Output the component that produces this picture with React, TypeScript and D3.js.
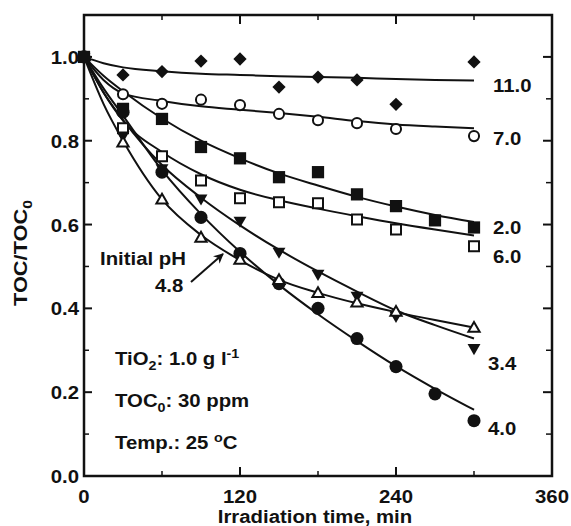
import React from "react";
import * as d3 from "d3";

// measured points, TOC/TOC0 vs irradiation time (min); null = no point
const times = [0, 30, 60, 90, 120, 150, 180, 210, 240, 270, 300];
const ph110 = [1.0, 0.957, 0.965, 0.99, 0.995, 0.928, 0.952, 0.945, 0.887, null, 0.988];
const ph70 = [1.0, 0.911, 0.888, 0.898, 0.885, 0.864, 0.849, 0.842, 0.828, null, 0.811];
const ph20 = [1.0, 0.876, 0.852, 0.785, 0.758, 0.713, 0.725, 0.672, 0.644, 0.61, 0.593];
const ph60 = [1.0, 0.83, 0.763, 0.705, 0.663, 0.653, 0.651, 0.612, 0.588, null, 0.548];
const ph34 = [1.0, 0.813, 0.735, 0.663, 0.61, 0.536, 0.483, 0.431, 0.383, null, 0.306];
const ph40 = [1.0, 0.868, 0.725, 0.617, 0.531, 0.459, 0.4, 0.328, 0.261, 0.196, 0.132];
const ph48 = [1.0, 0.794, 0.658, 0.567, 0.514, 0.466, 0.435, 0.412, 0.39, null, 0.352];

// fitted curves
const fitTimes = [0, 15, 30, 60, 90, 120, 150, 180, 210, 240, 270, 300];
const fit110 = [1.0, 0.985, 0.975, 0.966, 0.96, 0.957, 0.954, 0.952, 0.95, 0.947, 0.945, 0.944];
const fit70 = [1.0, 0.945, 0.913, 0.895, 0.882, 0.874, 0.866, 0.857, 0.847, 0.839, 0.834, 0.83];
const fit20 = [1.0, 0.955, 0.918, 0.853, 0.8, 0.758, 0.722, 0.693, 0.666, 0.643, 0.623, 0.606];
const fit60 = [1.0, 0.915, 0.848, 0.773, 0.72, 0.683, 0.658, 0.638, 0.62, 0.603, 0.588, 0.574];
const fit34 = [1.0, 0.915, 0.85, 0.742, 0.664, 0.598, 0.54, 0.488, 0.44, 0.395, 0.36, 0.328];
const fit40 = [1.0, 0.925, 0.86, 0.73, 0.625, 0.535, 0.456, 0.386, 0.322, 0.262, 0.208, 0.158];
const fit48 = [1.0, 0.888, 0.8, 0.66, 0.575, 0.515, 0.468, 0.437, 0.412, 0.391, 0.372, 0.354];

const xTicks = [0, 120, 240, 360];
const xMinor = [60, 180, 300];
const yTicks = [0, 0.2, 0.4, 0.6, 0.8, 1.0];
const yMinor = [0.1, 0.3, 0.5, 0.7, 0.9];

const W = 571;
const H = 526;
const FONT = "'Liberation Sans', Arial, Helvetica, sans-serif";
const SX = 1.1; // scanned lettering is a little wide

const x = d3.scaleLinear().domain([0, 360]).range([84, 552]);
const y = d3.scaleLinear().domain([0, 1.1]).range([476, 15]);

type Marker = "diamond" | "circleOpen" | "squareFilled" | "squareOpen" | "triDown" | "circleFilled" | "triUp";

const series: { label: string; values: (number | null)[]; fit: number[]; marker: Marker; lx: number; ly: number }[] = [
  { label: "11.0", values: ph110, fit: fit110, marker: "diamond", lx: 493, ly: 92 },
  { label: "7.0", values: ph70, fit: fit70, marker: "circleOpen", lx: 493, ly: 145 },
  { label: "6.0", values: ph60, fit: fit60, marker: "squareOpen", lx: 493, ly: 263 },
  { label: "3.4", values: ph34, fit: fit34, marker: "triDown", lx: 488, ly: 370 },
  { label: "4.0", values: ph40, fit: fit40, marker: "circleFilled", lx: 488, ly: 435 },
  { label: "4.8", values: ph48, fit: fit48, marker: "triUp", lx: -1, ly: -1 },
  { label: "2.0", values: ph20, fit: fit20, marker: "squareFilled", lx: 493, ly: 234 },
];

const symbolPath = (m: Marker) => {
  switch (m) {
    case "diamond":
      return d3.symbol(d3.symbolSquare, 88)();
    case "circleOpen":
      return d3.symbol(d3.symbolCircle, 80)();
    case "squareFilled":
      return d3.symbol(d3.symbolSquare, 150)();
    case "squareOpen":
      return d3.symbol(d3.symbolSquare, 100)();
    case "triDown":
    case "triUp":
      return d3.symbol(d3.symbolTriangle, m === "triUp" ? 55 : 72)();
    case "circleFilled":
      return d3.symbol(d3.symbolCircle, 135)();
  }
};

const isOpen = (m: Marker) => m === "circleOpen" || m === "squareOpen" || m === "triUp";
const rot = (m: Marker) => (m === "diamond" ? 45 : m === "triDown" ? 180 : 0);

const line = d3
  .line<number>()
  .x((_, i) => x(fitTimes[i]))
  .y((d) => y(d))
  .curve(d3.curveMonotoneX);

const Txt = ({ x: tx, y: ty, anchor = "start", size = 18.5, children }: any) => (
  <text
    transform={`translate(${tx},${ty}) scale(${SX},1)`}
    textAnchor={anchor}
    fontSize={size}
    fontWeight="bold"
    fontFamily={FONT}
    fill="#111"
  >
    {children}
  </text>
);

export default function App() {
  const left = x(0);
  const right = x(360);
  const top = y(1.1);
  const bottom = y(0);

  return (
    <div style={{ position: "absolute", left: 0, top: 0 }}>
      <svg width={W} height={H} viewBox={`0 0 ${W} ${H}`} style={{ display: "block", background: "#fff" }}>
        <defs>
          <marker id="head" viewBox="0 0 10 10" refX="9" refY="5" markerWidth="5" markerHeight="5" orient="auto">
            <path d="M0,0 L10,5 L0,10 L3,5 Z" fill="#111" />
          </marker>
        </defs>

        {/* frame */}
        <rect x={left} y={top} width={right - left} height={bottom - top} fill="none" stroke="#111" strokeWidth={2.5} />

        {/* ticks, pointing inward on all four sides */}
        {xTicks.slice(1, -1).map((t) => (
          <g key={"xt" + t} stroke="#111" strokeWidth={2}>
            <line x1={x(t)} x2={x(t)} y1={bottom} y2={bottom - 9} />
            <line x1={x(t)} x2={x(t)} y1={top} y2={top + 9} />
          </g>
        ))}
        {xMinor.map((t) => (
          <g key={"xm" + t} stroke="#111" strokeWidth={1.5}>
            <line x1={x(t)} x2={x(t)} y1={bottom} y2={bottom - 5} />
            <line x1={x(t)} x2={x(t)} y1={top} y2={top + 5} />
          </g>
        ))}
        {yTicks.slice(1).map((v) => (
          <g key={"yt" + v} stroke="#111" strokeWidth={2}>
            <line x1={left} x2={left + 8} y1={y(v)} y2={y(v)} />
            <line x1={right} x2={right - 9} y1={y(v)} y2={y(v)} />
          </g>
        ))}
        {yMinor.map((v) => (
          <g key={"ym" + v} stroke="#111" strokeWidth={1.5}>
            <line x1={left} x2={left + 5} y1={y(v)} y2={y(v)} />
            <line x1={right} x2={right - 6} y1={y(v)} y2={y(v)} />
          </g>
        ))}

        {/* tick labels */}
        {xTicks.map((t) => (
          <Txt key={"xl" + t} x={x(t)} y={503} anchor="middle">
            {t}
          </Txt>
        ))}
        {yTicks.map((v) => (
          <Txt key={"yl" + v} x={79} y={y(v) + 7} anchor="end">
            {d3.format(".1f")(v)}
          </Txt>
        ))}

        {/* axis titles */}
        <Txt x={315} y={523} anchor="middle">
          Irradiation time, min
        </Txt>
        <text
          transform="translate(27,253) rotate(-90)"
          textAnchor="middle"
          fontSize={18}
          fontWeight="bold"
          fontFamily={FONT}
          fill="#111"
          textLength={106}
          lengthAdjust="spacingAndGlyphs"
        >
          TOC/TOC
          <tspan dy={5} fontSize={13}>
            0
          </tspan>
        </text>

        {/* fitted curves */}
        {series.map((s) => (
          <path key={"f" + s.label} d={line(s.fit) || ""} fill="none" stroke="#111" strokeWidth={2} />
        ))}

        {/* data points */}
        {series.map((s) =>
          s.values.map((v, i) =>
            v == null ? null : (
              <path
                key={s.label + "-" + i}
                d={symbolPath(s.marker) || ""}
                transform={`translate(${x(times[i])},${y(v)}) rotate(${rot(s.marker)})`}
                fill={isOpen(s.marker) ? "#fff" : "#111"}
                stroke="#111"
                strokeWidth={isOpen(s.marker) ? 2 : 0}
              />
            )
          )
        )}

        {/* curve labels */}
        {series
          .filter((s) => s.lx > 0)
          .map((s) => (
            <Txt key={"l" + s.label} x={s.lx} y={s.ly}>
              {s.label}
            </Txt>
          ))}

        {/* annotations */}
        <Txt x={100} y={265}>
          Initial pH
        </Txt>
        <Txt x={155} y={292}>
          4.8
        </Txt>
        <line x1={191} y1={282} x2={223} y2={254} stroke="#111" strokeWidth={2} markerEnd="url(#head)" />

        <Txt x={115} y={365}>
          TiO<tspan dy={5} fontSize={13}>2</tspan>
          <tspan dy={-5}>: 1.0 g l</tspan>
          <tspan dy={-7} fontSize={13}>-1</tspan>
        </Txt>
        <Txt x={115} y={407}>
          TOC<tspan dy={5} fontSize={13}>0</tspan>
          <tspan dy={-5}>: 30 ppm</tspan>
        </Txt>
        <Txt x={115} y={449}>
          Temp.: 25 <tspan dy={-7} fontSize={13}>o</tspan>
          <tspan dy={7}>C</tspan>
        </Txt>
      </svg>
    </div>
  );
}
